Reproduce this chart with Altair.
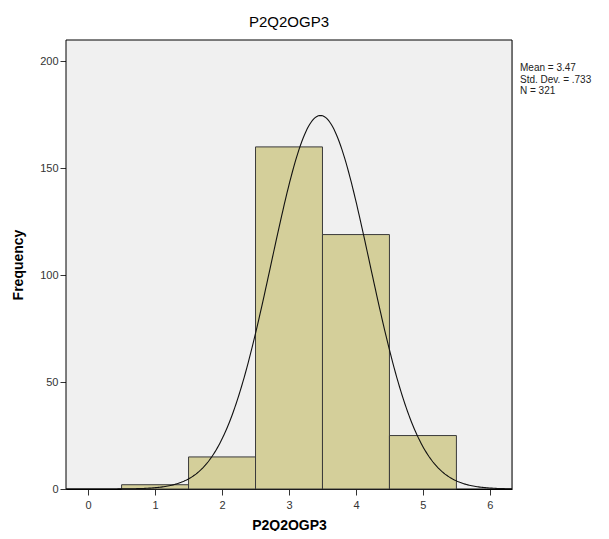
import altair as alt
import pandas as pd

categories = [1, 2, 3, 4, 5]
frequencies = [2, 15, 160, 119, 25]
mean_value = 3.47
std_dev = 0.733
n_total = 321
x_ticks = [0, 1, 2, 3, 4, 5, 6]
y_ticks = [0, 50, 100, 150, 200]
stats_lines = ["Mean = 3.47", "Std. Dev. = .733", "N = 321"]

bars_df = pd.DataFrame({
    "lo": [c - 0.5 for c in categories],
    "hi": [c + 0.5 for c in categories],
    "freq": frequencies,
})

xscale = alt.Scale(domain=[-0.33, 6.33], nice=False, zero=False)
yscale = alt.Scale(domain=[0, 210], nice=False)

xaxis = alt.Axis(values=x_ticks, title="P2Q2OGP3", grid=False, tickSize=6,
                 tickColor="#333", domainColor="#000", labelFontSize=11,
                 labelColor="#333", titleFontSize=14, titleFontWeight="bold",
                 titleColor="#000", titlePadding=8, labelPadding=4, format="d")
yaxis = alt.Axis(values=y_ticks, title="Frequency", grid=False, tickSize=6,
                 tickColor="#333", domainColor="#000", labelFontSize=11,
                 labelColor="#333", titleFontSize=14, titleFontWeight="bold",
                 titleColor="#000", titlePadding=14, labelPadding=2)

frame = alt.Chart(pd.DataFrame({"a": [0]})).mark_rect(
    fill="#F0F0F0", stroke="#000", strokeWidth=1
).encode(
    x=alt.value(0), x2=alt.value(446), y=alt.value(0), y2=alt.value(449)
)

bars = alt.Chart(bars_df).mark_rect(
    fill="#D4CF9A", stroke="#3a3a3a", strokeWidth=1
).encode(
    x=alt.X("lo:Q", scale=xscale, axis=xaxis),
    x2="hi:Q",
    y=alt.Y("freq:Q", scale=yscale, axis=yaxis),
    y2=alt.datum(0),
)

expr_density = (
    f"{n_total} * exp(-0.5 * pow((datum.x - {mean_value}) / {std_dev}, 2)) "
    f"/ ({std_dev} * sqrt(2 * PI))"
)
curve = alt.Chart(alt.sequence(-0.33, 6.34, 0.02, as_="x")).transform_calculate(
    dens=expr_density
).mark_line(color="#111", strokeWidth=1.1, clip=True).encode(
    x=alt.X("x:Q", scale=xscale),
    y=alt.Y("dens:Q", scale=yscale),
)

stat_layers = []
for i, line in enumerate(stats_lines):
    stat_layers.append(
        alt.Chart(pd.DataFrame({"txt": [line]})).mark_text(
            align="left", baseline="middle", fontSize=10, color="#222"
        ).encode(x=alt.value(454), y=alt.value(28 + 11.5 * i), text="txt:N")
    )

chart = alt.layer(frame, bars, curve, *stat_layers).properties(
    width=446,
    height=449,
    autosize=alt.AutoSizeParams(type="none"),
    padding={"left": 58, "top": 32, "right": 89, "bottom": 42},
    title=alt.TitleParams("P2Q2OGP3", fontSize=15, fontWeight="normal",
                          color="#000", anchor="middle", offset=10),
).configure_view(
    fill="#F0F0F0", stroke=None
).configure(background="white", font="Liberation Sans")

chart.save("out.html", embed_options={"renderer": "svg", "actions": False})
